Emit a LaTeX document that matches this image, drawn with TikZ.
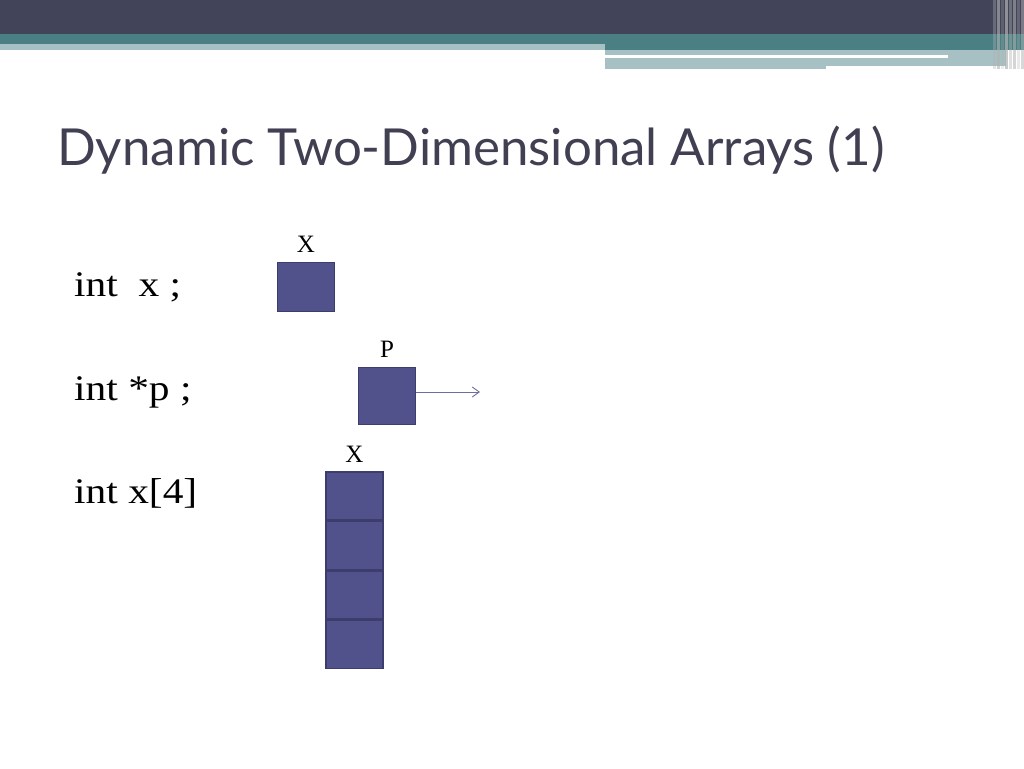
\documentclass[tikz,border=0pt]{standalone}
\usepackage{fontspec}
\setmainfont{Liberation Serif}
\newfontfamily\titlefont{Lato}
\newfontfamily\codefont[FakeStretch=1.15]{Liberation Serif}
\usepackage{xcolor}
\usepackage{tikz}
\usetikzlibrary{arrows.meta}

\definecolor{headdark}{HTML}{424459}
\definecolor{headteal}{HTML}{4A8083}
\definecolor{headlight}{HTML}{A7C0C3}
\definecolor{titlegray}{HTML}{404052}
\definecolor{cellfill}{HTML}{51518B}
\definecolor{celledge}{HTML}{3C3D6C}
\definecolor{pointer}{HTML}{6E6E9E}

\begin{document}
\begin{tikzpicture}[x=1pt,y=-1pt]
    \tikzstyle{cell}=[draw=celledge,fill=cellfill,line width=1.3pt,inner sep=0pt,
                      minimum width=57pt,minimum height=48.2pt]
    \tikzstyle{code}=[anchor=base west,inner sep=0pt,font=\codefont\fontsize{36}{42}\selectfont]
    \tikzstyle{varname}=[anchor=base,inner sep=0pt,font=\fontsize{25}{29}\selectfont]
    \tikzstyle{pointer arrow}=[-{Straight Barb[length=7pt,width=10pt]},line width=0.9pt,color=pointer]

    \useasboundingbox (0,0) rectangle (1024,768);

    % Header bars
    \fill[headdark] (0,0) rectangle (1024,34);
    \fill[headteal] (0,34) rectangle (1024,44);
    \fill[headteal] (605,34) rectangle (1024,50);
    \fill[headlight] (0,44) rectangle (605,50);
    \fill[headlight] (605,50) rectangle (1006,66);
    \fill[headlight] (605,66) rectangle (826,69);
    \fill[white] (605,55) rectangle (948,58);
    \foreach \xs/\op in {993/0.35,997/0.6,1001/0.25,1005/0.7,1009/0.4,1013/0.55,1017/0.3,1021/0.5}
        \fill[gray!60,opacity=\op] (\xs,0) rectangle ++(2.5,69);

    % Title
    \node[anchor=base west,inner sep=0pt,text=titlegray,font=\titlefont\fontsize{51}{61}\selectfont]
        (title) at (57,165) {Dynamic Two-Dimensional Arrays (1)};

    % Declarations
    \node[code] (declx) at (74,296) {int\ \ x ;};
    \node[code] (declp) at (74,400) {int *p ;};
    \node[code] (decla) at (74,503) {int x[4]};

    % int x
    \node[cell,minimum height=49pt] (x) at (306,287) {};
    \node[varname] (xlabel) at (306,252) {X};

    % int *p
    \node[cell,minimum height=57pt] (p) at (387,396) {};
    \node[varname] (plabel) at (387,357) {P};
    \coordinate (ptarget) at (480,392);
    \draw[style=pointer arrow] (p.east |- ptarget) -- (ptarget);

    % int x[4]
    \node[cell] (a1) at (354.5,496) {};
    \node[cell,anchor=north] (a2) at (a1.south) {};
    \node[cell,anchor=north] (a3) at (a2.south) {};
    \node[cell,anchor=north] (a4) at (a3.south) {};
    \node[varname] (alabel) at (354.5,462) {X};

\end{tikzpicture}
\end{document}
